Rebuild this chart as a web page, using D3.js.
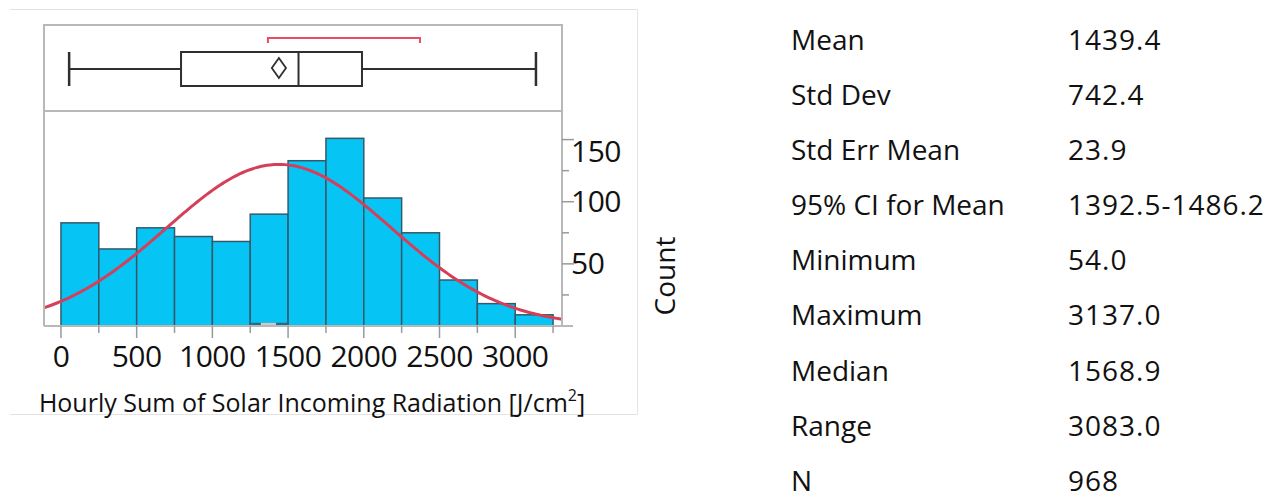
<!DOCTYPE html>
<html>
<head>
<meta charset="utf-8">
<script src="https://cdn.jsdelivr.net/npm/d3@7"></script>
<style>
  html, body { margin: 0; padding: 0; background: #fff; }
  svg { display: block; }
  text { font-family: "Open Sans", "Noto Sans", sans-serif; fill: #111; }
</style>
</head>
<body>
<svg id="chart" width="1283" height="500"></svg>
<script>
// Histogram bins (lower edges, J/cm²) and counts per 250-wide bin
const binStarts = [0, 250, 500, 750, 1000, 1250, 1500, 1750, 2000, 2250, 2500, 2750, 3000];
const binCounts = [83, 62, 79, 72, 68, 90, 133, 151, 103, 75, 37, 18, 9];
const binWidth = 250;

// Summary statistics
const mean = 1439.4, stdDev = 742.4, n = 968;
const minimum = 54.0, maximum = 3137.0, median = 1568.9;
const q1 = 793, q3 = 1988;
const ciLow = 1392.5, ciHigh = 1486.2;
const shortestHalf = [1367, 2371];

// Axis ticks
const xMajorTicks = [0, 500, 1000, 1500, 2000, 2500, 3000];
const xMinorTicks = [250, 750, 1250, 1750, 2250, 2750, 3250];
const yMajorTicks = [50, 100, 150];
const yMinorTicks = [25, 75, 125];

// Statistics table
const statLabels = ["Mean", "Std Dev", "Std Err Mean", "95% CI for Mean", "Minimum", "Maximum", "Median", "Range", "N"];
const statValues = ["1439.4", "742.4", "23.9", "1392.5-1486.2", "54.0", "3137.0", "1568.9", "3083.0", "968"];

const svg = d3.select("#chart");

const frame = { left: 44, right: 562, top: 25, divider: 111, bottom: 326 };
const x = d3.scaleLinear().domain([-112, 3309]).range([frame.left, frame.right]);
const y = d3.scaleLinear().domain([0, 173]).range([frame.bottom, frame.divider]);

const frameGray = "#b8b8b8";
const boxInk = "#2f2f2f";
const curveRed = "#d4405a";
const barFill = "#06c5f5";
const barStroke = "#36596a";

// Outer panel outline (top, right, bottom edges)
svg.append("path")
  .attr("d", "M10,9.5 H637.5 V414.5 H10")
  .attr("fill", "none").attr("stroke", "#e3e3e3").attr("stroke-width", 1);

// Histogram bars
svg.append("g").selectAll("rect")
  .data(binStarts.map((s, i) => ({ s, c: binCounts[i] })))
  .join("rect")
  .attr("x", d => x(d.s))
  .attr("y", d => y(d.c))
  .attr("width", d => x(d.s + binWidth) - x(d.s))
  .attr("height", d => y(0) - y(d.c))
  .attr("fill", barFill)
  .attr("stroke", barStroke)
  .attr("stroke-width", 1.5);

// Small marker at the base of the 1250–1500 bin
const baseMark = svg.append("g");
baseMark.append("line")
  .attr("x1", x(1250) + 1).attr("x2", x(1500) - 1)
  .attr("y1", y(0) - 2).attr("y2", y(0) - 2)
  .attr("stroke", "#1f6f86").attr("stroke-width", 2.5);
baseMark.append("line")
  .attr("x1", x(1320)).attr("x2", x(1420))
  .attr("y1", y(0) - 2).attr("y2", y(0) - 2)
  .attr("stroke", "#c9ccce").attr("stroke-width", 2.5);

// Fitted normal curve, scaled to counts per bin
const [dx0, dx1] = x.domain();
const curvePts = d3.range(0, 201).map(i => {
  const v = dx0 + (dx1 - dx0) * i / 200;
  const z = (v - mean) / stdDev;
  const dens = n * binWidth / (stdDev * Math.sqrt(2 * Math.PI)) * Math.exp(-0.5 * z * z);
  return [v, dens];
});
svg.append("path")
  .datum(curvePts)
  .attr("d", d3.line().x(d => x(d[0])).y(d => y(d[1])).curve(d3.curveBasis))
  .attr("fill", "none")
  .attr("stroke", curveRed)
  .attr("stroke-width", 3);

// Frame: left edge, top, divider
const frameG = svg.append("g").attr("stroke", frameGray).attr("stroke-width", 2).attr("fill", "none");
frameG.append("path").attr("d", `M${frame.left},${frame.bottom} V${frame.top} H${frame.right} V${frame.bottom}`);
frameG.append("line").attr("x1", frame.left).attr("x2", frame.right).attr("y1", frame.divider).attr("y2", frame.divider);

// X axis (bottom)
const xAxisG = svg.append("g").attr("transform", `translate(0,${frame.bottom})`);
xAxisG.append("line").attr("x1", frame.left).attr("x2", frame.right + 11)
  .attr("stroke", frameGray).attr("stroke-width", 2);
xAxisG.selectAll("line.minor").data(xMinorTicks).join("line").attr("class", "minor")
  .attr("x1", d => x(d)).attr("x2", d => x(d)).attr("y1", 0).attr("y2", 7)
  .attr("stroke", "#9a9a9a").attr("stroke-width", 1.5);
xAxisG.selectAll("line.major").data(xMajorTicks).join("line").attr("class", "major")
  .attr("x1", d => x(d)).attr("x2", d => x(d)).attr("y1", 0).attr("y2", 12)
  .attr("stroke", "#9a9a9a").attr("stroke-width", 1.5);
xAxisG.selectAll("text").data(xMajorTicks).join("text")
  .attr("x", d => x(d)).attr("y", 30)
  .attr("dy", "0.35em")
  .attr("text-anchor", "middle")
  .attr("font-size", 30)
  .attr("letter-spacing", -0.5)
  .text(d => d);

// Y axis (right)
const yAxisG = svg.append("g").attr("transform", `translate(${frame.right},0)`);
yAxisG.selectAll("line.minor").data(yMinorTicks).join("line").attr("class", "minor")
  .attr("x1", 0).attr("x2", 7).attr("y1", d => y(d)).attr("y2", d => y(d))
  .attr("stroke", "#9a9a9a").attr("stroke-width", 1.5);
yAxisG.selectAll("line.major").data(yMajorTicks).join("line").attr("class", "major")
  .attr("x1", 0).attr("x2", 12).attr("y1", d => y(d)).attr("y2", d => y(d))
  .attr("stroke", "#9a9a9a").attr("stroke-width", 1.5);
yAxisG.selectAll("text").data(yMajorTicks).join("text")
  .attr("x", 9)
  .attr("y", d => Math.max(y(d), 151))
  .attr("dy", "0.35em")
  .attr("font-size", 30)
  .attr("letter-spacing", -0.5)
  .text(d => d);

// Axis titles
svg.append("text")
  .attr("x", 312).attr("y", 403).attr("dy", "0.35em")
  .attr("text-anchor", "middle")
  .attr("font-size", 25)
  .html('Hourly Sum of Solar Incoming Radiation [J/cm<tspan baseline-shift="super" font-size="16">2</tspan>]');

svg.append("text")
  .attr("transform", "translate(665,276) rotate(-90)")
  .attr("text-anchor", "middle")
  .attr("dy", "0.35em")
  .attr("font-size", 28)
  .text("Count");

// Box plot
const boxY = 69, boxHalf = 17;
const bp = svg.append("g").attr("stroke", boxInk).attr("stroke-width", 2).attr("fill", "none");
bp.append("line").attr("x1", x(minimum)).attr("x2", x(q1)).attr("y1", boxY).attr("y2", boxY);
bp.append("line").attr("x1", x(q3)).attr("x2", x(maximum)).attr("y1", boxY).attr("y2", boxY);
bp.append("line").attr("x1", x(minimum)).attr("x2", x(minimum)).attr("y1", boxY - boxHalf).attr("y2", boxY + boxHalf).attr("stroke-width", 2.5);
bp.append("line").attr("x1", x(maximum)).attr("x2", x(maximum)).attr("y1", boxY - boxHalf).attr("y2", boxY + boxHalf).attr("stroke-width", 2.5);
bp.append("rect").attr("x", x(q1)).attr("y", boxY - boxHalf).attr("width", x(q3) - x(q1)).attr("height", boxHalf * 2);
bp.append("line").attr("x1", x(median)).attr("x2", x(median)).attr("y1", boxY - boxHalf).attr("y2", boxY + boxHalf);
// Mean diamond spanning the 95% CI
const dmY = boxY - 1;
bp.append("path")
  .attr("d", `M${x(ciLow)},${dmY} L${x(mean)},${dmY - 10} L${x(ciHigh)},${dmY} L${x(mean)},${dmY + 10} Z`)
  .attr("stroke-width", 1.8);

// Shortest half bracket
svg.append("path")
  .attr("d", `M${x(shortestHalf[0])},${43} V${38} H${x(shortestHalf[1])} V${43}`)
  .attr("fill", "none").attr("stroke", "#ec4b62").attr("stroke-width", 2);

// Statistics table
const table = svg.append("g");
const rowY = d3.scaleLinear().domain([0, statLabels.length - 1]).range([40, 481]);
table.selectAll("text.label").data(statLabels).join("text").attr("class", "label")
  .attr("x", 791).attr("y", (d, i) => rowY(i)).attr("dy", "0.35em")
  .attr("font-size", 28).text(d => d);
table.selectAll("text.value").data(statValues).join("text").attr("class", "value")
  .attr("x", 1068).attr("y", (d, i) => rowY(i)).attr("dy", "0.35em")
  .attr("font-size", 28).attr("letter-spacing", 1).text(d => d);
</script>
</body>
</html>
